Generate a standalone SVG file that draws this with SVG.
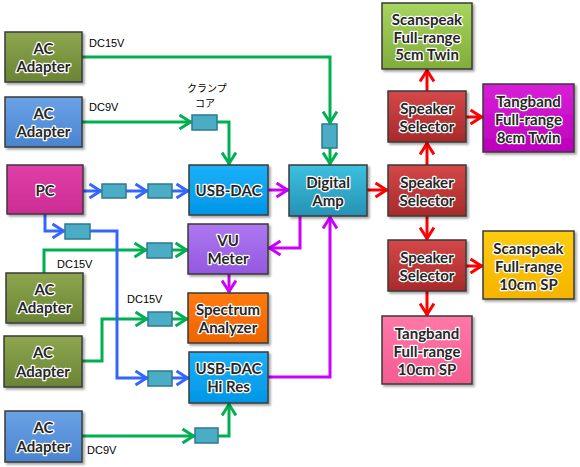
<svg xmlns="http://www.w3.org/2000/svg" width="580" height="467" viewBox="0 0 580 467">
<defs>
<style>
.n rect{stroke:#3a3a3a;stroke-width:1.5;filter:url(#sh)}
.n text{font-family:Lato,"Open Sans",sans-serif;font-weight:bold;font-size:15px;fill:#262626;stroke:#fff;stroke-width:2.5;paint-order:stroke;stroke-linejoin:round;text-anchor:middle;dominant-baseline:central}
.c{fill:#4bacc6;stroke:#2c7a8f;stroke-width:1.5}
.lbl{font-family:"Liberation Sans",Arial,sans-serif;font-size:11px;fill:#000}
.jp{font-family:"Noto Sans CJK JP",sans-serif;font-size:10px;fill:#000}
.w path{fill:none;stroke-width:3}
.g path{stroke:#00b050;marker-end:url(#ag)}
.b path{stroke:#3366ff;marker-end:url(#ab)}
.m path{stroke:#cc00ff;marker-end:url(#am)}
.r path{stroke:#ff0000;marker-end:url(#ar)}
</style>
<filter id="sh" x="-10%" y="-10%" width="130%" height="130%"><feDropShadow dx="2" dy="2" stdDeviation="1.2" flood-color="#000" flood-opacity="0.35"/></filter>
<marker id="ag" markerUnits="userSpaceOnUse" markerWidth="17" markerHeight="16" viewBox="0 0 17 16" refX="14.5" refY="8" orient="auto"><path d="M2,1 L13,8 L2,15" fill="none" stroke="#00b050" stroke-width="3"/></marker>
<marker id="ab" markerUnits="userSpaceOnUse" markerWidth="17" markerHeight="16" viewBox="0 0 17 16" refX="14.5" refY="8" orient="auto"><path d="M2,1 L13,8 L2,15" fill="none" stroke="#3366ff" stroke-width="3"/></marker>
<marker id="am" markerUnits="userSpaceOnUse" markerWidth="17" markerHeight="16" viewBox="0 0 17 16" refX="14.5" refY="8" orient="auto"><path d="M2,1 L13,8 L2,15" fill="none" stroke="#cc00ff" stroke-width="3"/></marker>
<marker id="ar" markerUnits="userSpaceOnUse" markerWidth="17" markerHeight="16" viewBox="0 0 17 16" refX="14.5" refY="8" orient="auto"><path d="M2,1 L13,8 L2,15" fill="none" stroke="#ff0000" stroke-width="3"/></marker>
<linearGradient id="gOl" x1="0" y1="0" x2="0" y2="1"><stop offset="0" stop-color="#8ea64f"/><stop offset="1" stop-color="#6a8434"/></linearGradient>
<linearGradient id="gBl" x1="0" y1="0" x2="0" y2="1"><stop offset="0" stop-color="#6aa2e6"/><stop offset="1" stop-color="#4a84cf"/></linearGradient>
<linearGradient id="gPc" x1="0" y1="0" x2="0" y2="1"><stop offset="0" stop-color="#e040a8"/><stop offset="1" stop-color="#cc2c94"/></linearGradient>
<linearGradient id="gUd" x1="0" y1="0" x2="0" y2="1"><stop offset="0" stop-color="#1cb0f8"/><stop offset="1" stop-color="#0096e6"/></linearGradient>
<linearGradient id="gDa" x1="0" y1="0" x2="0" y2="1"><stop offset="0" stop-color="#3cc0e0"/><stop offset="1" stop-color="#2792b4"/></linearGradient>
<linearGradient id="gVu" x1="0" y1="0" x2="0" y2="1"><stop offset="0" stop-color="#ad78f0"/><stop offset="1" stop-color="#9358e0"/></linearGradient>
<linearGradient id="gSp" x1="0" y1="0" x2="0" y2="1"><stop offset="0" stop-color="#ff7a10"/><stop offset="1" stop-color="#ee6400"/></linearGradient>
<linearGradient id="gSs" x1="0" y1="0" x2="0" y2="1"><stop offset="0" stop-color="#d44848"/><stop offset="1" stop-color="#a82a2a"/></linearGradient>
<linearGradient id="gS5" x1="0" y1="0" x2="0" y2="1"><stop offset="0" stop-color="#a8d460"/><stop offset="1" stop-color="#80ac38"/></linearGradient>
<linearGradient id="gT8" x1="0" y1="0" x2="0" y2="1"><stop offset="0" stop-color="#d820d8"/><stop offset="1" stop-color="#bb00bb"/></linearGradient>
<linearGradient id="gS10" x1="0" y1="0" x2="0" y2="1"><stop offset="0" stop-color="#ffcc10"/><stop offset="1" stop-color="#f5b400"/></linearGradient>
<linearGradient id="gT10" x1="0" y1="0" x2="0" y2="1"><stop offset="0" stop-color="#ff78a8"/><stop offset="1" stop-color="#f45c90"/></linearGradient>
</defs>
<rect width="580" height="467" fill="#fff"/>

<g id="connectors" class="w">
<g class="g">
<path d="M82,57 H330 V124"/>
<path d="M330,148 V165"/>
<path d="M82,122 H192"/>
<path d="M217,122 H229 V165"/>
<path d="M44,273 V250 H147"/>
<path d="M172,250 H188"/>
<path d="M82,361 H102 V319 H148"/>
<path d="M172,319 H188"/>
<path d="M82,436 H195"/>
<path d="M218,436 H229 V403"/>
</g>
<g class="b">
<path d="M83,191 H102"/>
<path d="M126,191 H148"/>
<path d="M172,191 H189"/>
<path d="M45,214 V231 H65"/>
<path d="M90,231 H117 V378 H148"/>
<path d="M172,378 H189"/>
</g>
<g class="m">
<path d="M268,190 H289"/>
<path d="M300,216 V248 H268"/>
<path d="M229,274 V293"/>
<path d="M268,377 H330 V216"/>
</g>
<g class="r">
<path d="M367,190 H388"/>
<path d="M427,165 V142"/>
<path d="M427,91 V69"/>
<path d="M466,117 H483"/>
<path d="M427,216 V240"/>
<path d="M466,266 H483"/>
<path d="M427,291 V316"/>
</g>
</g>

<g id="cores">
<rect class="c" x="192" y="115" width="25" height="15"/>
<rect class="c" x="322" y="124" width="15" height="24"/>
<rect class="c" x="102" y="184" width="24" height="14"/>
<rect class="c" x="148" y="184" width="24" height="14"/>
<rect class="c" x="65" y="224" width="25" height="15"/>
<rect class="c" x="147" y="243" width="25" height="15"/>
<rect class="c" x="148" y="312" width="24" height="14"/>
<rect class="c" x="148" y="371" width="24" height="15"/>
<rect class="c" x="195" y="428" width="23" height="15"/>
</g>

<g id="labels">
<text class="lbl" x="89" y="47">DC15V</text>
<text class="lbl" x="89" y="111">DC9V</text>
<text class="jp" x="187" y="92">クランプ</text>
<text class="jp" x="195" y="107">コア</text>
<text class="lbl" x="57" y="268">DC15V</text>
<text class="lbl" x="127" y="303">DC15V</text>
<text class="lbl" x="87" y="454">DC9V</text>
</g>

<g id="ac1" class="n"><rect x="5" y="32" width="77" height="50" fill="url(#gOl)"/><text x="43.5" y="48">AC</text><text x="43.5" y="66">Adapter</text></g>
<g id="ac2" class="n"><rect x="5" y="97" width="77" height="50" fill="url(#gBl)"/><text x="43.5" y="113">AC</text><text x="43.5" y="131">Adapter</text></g>
<g id="pc" class="n"><rect x="7" y="165" width="76" height="49" fill="url(#gPc)"/><text x="45" y="190">PC</text></g>
<g id="ac3" class="n"><rect x="6" y="273" width="77" height="50" fill="url(#gOl)"/><text x="44.5" y="289">AC</text><text x="44.5" y="307">Adapter</text></g>
<g id="ac4" class="n"><rect x="4" y="336" width="78" height="51" fill="url(#gOl)"/><text x="43" y="352">AC</text><text x="43" y="371">Adapter</text></g>
<g id="ac5" class="n"><rect x="5" y="411" width="77" height="51" fill="url(#gBl)"/><text x="43.5" y="427">AC</text><text x="43.5" y="446">Adapter</text></g>

<g id="usbdac" class="n"><rect x="189" y="165" width="79" height="50" fill="url(#gUd)"/><text x="228.5" y="190">USB-DAC</text></g>
<g id="amp" class="n"><rect x="289" y="165" width="78" height="51" fill="url(#gDa)"/><text x="328" y="182">Digital</text><text x="328" y="200">Amp</text></g>
<g id="vu" class="n"><rect x="188" y="224" width="80" height="50" fill="url(#gVu)"/><text x="228" y="240">VU</text><text x="228" y="258">Meter</text></g>
<g id="spec" class="n"><rect x="188" y="293" width="80" height="50" fill="url(#gSp)"/><text x="228" y="309">Spectrum</text><text x="228" y="327">Analyzer</text></g>
<g id="usbdachr" class="n"><rect x="189" y="352" width="79" height="51" fill="url(#gUd)"/><text x="228.5" y="368">USB-DAC</text><text x="228.5" y="386">Hi Res</text></g>

<g id="scan5" class="n"><rect x="382" y="3" width="90" height="66" fill="url(#gS5)"/><text x="427" y="19">Scanspeak</text><text x="427" y="37">Full-range</text><text x="427" y="54">5cm Twin</text></g>
<g id="sel1" class="n"><rect x="388" y="91" width="78" height="51" fill="url(#gSs)"/><text x="427" y="108">Speaker</text><text x="427" y="126">Selector</text></g>
<g id="tang8" class="n"><rect x="483" y="84" width="91" height="68" fill="url(#gT8)"/><text x="528.5" y="101">Tangband</text><text x="528.5" y="119">Full-range</text><text x="528.5" y="137">8cm Twin</text></g>
<g id="sel2" class="n"><rect x="388" y="165" width="78" height="51" fill="url(#gSs)"/><text x="427" y="182">Speaker</text><text x="427" y="200">Selector</text></g>
<g id="sel3" class="n"><rect x="388" y="240" width="78" height="51" fill="url(#gSs)"/><text x="427" y="257">Speaker</text><text x="427" y="275">Selector</text></g>
<g id="scan10" class="n"><rect x="483" y="231" width="91" height="68" fill="url(#gS10)"/><text x="528.5" y="248">Scanspeak</text><text x="528.5" y="266">Full-range</text><text x="528.5" y="284">10cm SP</text></g>
<g id="tang10" class="n"><rect x="382" y="316" width="90" height="68" fill="url(#gT10)"/><text x="427" y="333">Tangband</text><text x="427" y="351">Full-range</text><text x="427" y="369">10cm SP</text></g>
</svg>
